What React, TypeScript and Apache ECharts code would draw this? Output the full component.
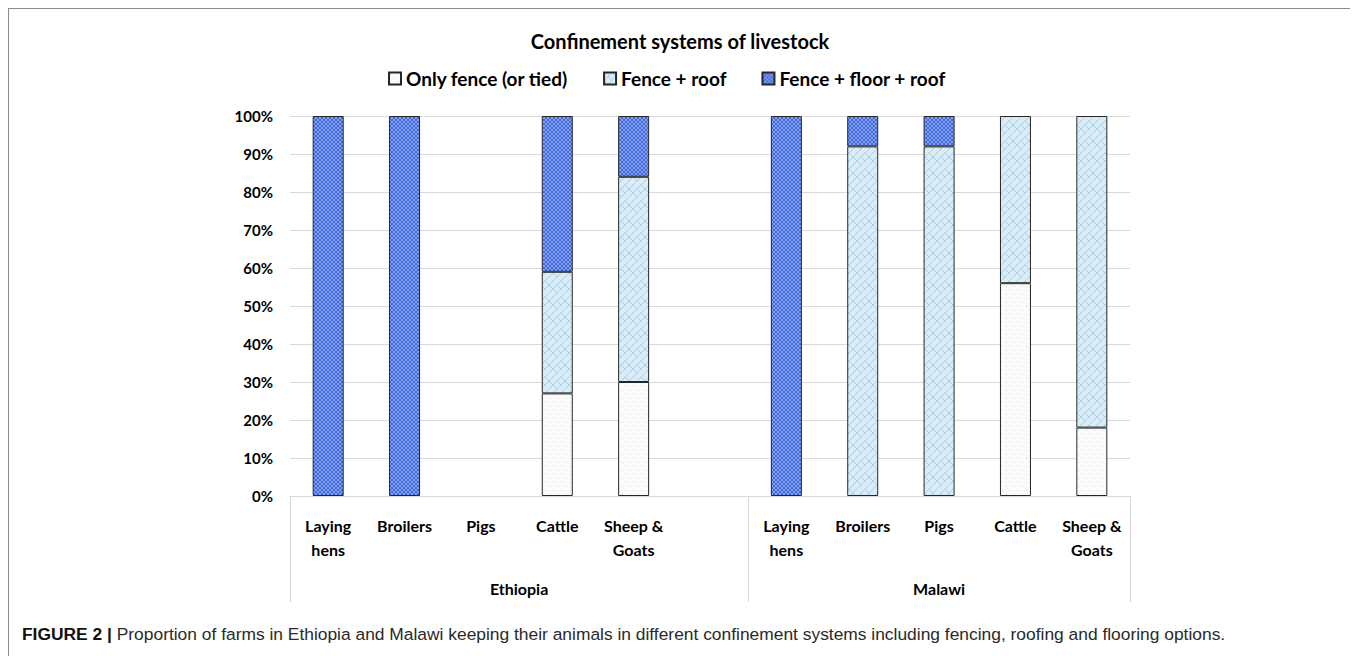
import React, { useEffect, useRef } from "react";
import * as echarts from "echarts";

const TITLE = "Confinement systems of livestock";
const CAPTION_BOLD = "FIGURE 2 |";
const CAPTION_TEXT =
  "Proportion of farms in Ethiopia and Malawi keeping their animals in different confinement systems including fencing, roofing and flooring options.";

const countries = ["Ethiopia", "Malawi"];
const countrySlots = [6, 5];
const speciesLabels = [
  "Laying\nhens", "Broilers", "Pigs", "Cattle", "Sheep &\nGoats", "",
  "Laying\nhens", "Broilers", "Pigs", "Cattle", "Sheep &\nGoats",
];
const seriesNames = ["Only fence (or tied)", "Fence + roof", "Fence + floor + roof"];
const onlyFence = [0, 0, 0, 27, 30, 0, 0, 0, 0, 56, 18];
const fenceRoof = [0, 0, 0, 32, 54, 0, 0, 92, 92, 44, 82];
const fenceFloorRoof = [100, 100, 0, 41, 16, 0, 100, 8, 8, 0, 0];
const yTicks = [0, 10, 20, 30, 40, 50, 60, 70, 80, 90, 100];

const FONT = "Lato";

function makeCanvas(w: number, h: number, draw: (ctx: CanvasRenderingContext2D) => void) {
  const c = document.createElement("canvas");
  c.width = w;
  c.height = h;
  const ctx = c.getContext("2d")!;
  draw(ctx);
  return c;
}

export default function App() {
  const ref = useRef<HTMLDivElement>(null);
  useEffect(() => {
    document.documentElement.style.overflow = "hidden";
    const chart = echarts.init(ref.current!, undefined, { renderer: "svg" });

    const dots = makeCanvas(8, 8, (ctx) => {
      ctx.fillStyle = "#fbfbfb";
      ctx.fillRect(0, 0, 8, 8);
      ctx.fillStyle = "#d2d2d2";
      ctx.fillRect(1, 1, 1, 1);
      ctx.fillRect(5, 5, 1, 1);
    });
    const bricks = makeCanvas(16, 16, (ctx) => {
      ctx.fillStyle = "#d8edf7";
      ctx.fillRect(0, 0, 16, 16);
      ctx.strokeStyle = "#a6cff0";
      ctx.lineWidth = 1;
      ctx.beginPath();
      ctx.moveTo(0, 8); ctx.lineTo(8, 0);
      ctx.moveTo(0, 16); ctx.lineTo(16, 0);
      ctx.moveTo(8, 16); ctx.lineTo(16, 8);
      ctx.moveTo(4, 4); ctx.lineTo(8, 8);
      ctx.moveTo(12, 4); ctx.lineTo(16, 8);
      ctx.moveTo(8, 0); ctx.lineTo(12, 4);
      ctx.moveTo(0, 8); ctx.lineTo(4, 12);
      ctx.stroke();
    });
    const checker = makeCanvas(4, 4, (ctx) => {
      ctx.fillStyle = "#8aa0da";
      ctx.fillRect(0, 0, 4, 4);
      ctx.fillStyle = "#3a68f0";
      ctx.fillRect(0, 0, 2, 2);
      ctx.fillRect(2, 2, 2, 2);
    });

    const pat = (c: HTMLCanvasElement) =>
      ({ image: c, repeat: "repeat", imageWidth: c.width, imageHeight: c.height } as any);

    const fills = [pat(dots), pat(bricks), pat(checker)];
    const values = [onlyFence, fenceRoof, fenceFloorRoof];
    const categoryData = speciesLabels.map((s, i) => `${i}|${s}`);

    let cum = 0;
    const sepValues = [0];
    countrySlots.forEach((n) => { cum += n; sepValues.push(cum); });
    const centerValues: number[] = [];
    let start = 0;
    countrySlots.forEach((n) => { centerValues.push(start + n / 2); start += n; });

    const option: any = {
      animation: false,
      title: {
        text: TITLE,
        left: "center",
        top: 17,
        textStyle: { fontFamily: FONT, fontWeight: "bold", fontSize: 20, color: "#000" },
      },
      legend: {
        top: 55,
        left: 374,
        itemWidth: 12,
        itemHeight: 12,
        itemGap: 35,
        icon: "rect",
        textStyle: { fontFamily: FONT, fontWeight: "bold", fontSize: 19, color: "#000" },
        data: seriesNames,
      },
      grid: { left: 281, right: 221, top: 107, bottom: 163, containLabel: false },
      xAxis: [
        {
          type: "category",
          data: categoryData,
          axisTick: { show: false },
          axisLine: { lineStyle: { color: "#d9d9d9", width: 1 } },
          axisLabel: {
            interval: 0,
            margin: 17,
            lineHeight: 24,
            fontFamily: FONT,
            fontWeight: "bold",
            fontSize: 16,
            color: "#000",
            formatter: (v: string) => v.split("|")[1],
          },
        },
        {
          type: "value",
          min: 0,
          max: speciesLabels.length,
          position: "bottom",
          axisLine: { show: false },
          splitLine: { show: false },
          axisTick: {
            show: true,
            customValues: sepValues,
            length: 106,
            lineStyle: { color: "#d9d9d9", width: 1 },
          },
          axisLabel: {
            customValues: centerValues,
            margin: 84,
            fontFamily: FONT,
            fontWeight: "bold",
            fontSize: 16,
            color: "#000",
            formatter: (v: number) => {
              const idx = centerValues.findIndex((c) => Math.abs(c - v) < 1e-6);
              return idx >= 0 ? countries[idx] : "";
            },
          },
        },
      ],
      yAxis: {
        type: "value",
        min: yTicks[0],
        max: yTicks[yTicks.length - 1],
        interval: 10,
        axisLine: { show: false },
        axisTick: { show: false },
        splitLine: { lineStyle: { color: "#d9d9d9", width: 1 } },
        axisLabel: {
          margin: 17,
          fontFamily: FONT,
          fontWeight: "bold",
          fontSize: 15,
          color: "#000",
          formatter: "{value}%",
        },
      },
      series: seriesNames.map((name, si) => ({
        name,
        type: "bar",
        stack: "total",
        barWidth: 31,
        xAxisIndex: 0,
        itemStyle: { color: fills[si], borderColor: "#262626", borderWidth: 1 },
        data: values[si].map((v) => (v === 0 ? "-" : v)),
      })),
      graphic: [
        {
          type: "text",
          left: 13,
          top: 616,
          style: {
            text: `{b|${CAPTION_BOLD}} ${CAPTION_TEXT}`,
            fontFamily: "Liberation Sans",
            fontSize: 17.4,
            fill: "#2a2a2a",
            rich: {
              b: { fontFamily: "Liberation Sans", fontWeight: "bold", fontSize: 17.4, fill: "#111" },
            },
          },
        },
      ],
    };
    chart.setOption(option);
    return () => chart.dispose();
  }, []);

  return (
    <div
      style={{
        borderTop: "1px solid #8c8c8c",
        borderLeft: "1px solid #8c8c8c",
        borderRight: "1px solid #8c8c8c",
        width: 1342,
        height: 650,
      }}
    >
      <div ref={ref} style={{ width: 1342, height: 650 }} />
    </div>
  );
}
